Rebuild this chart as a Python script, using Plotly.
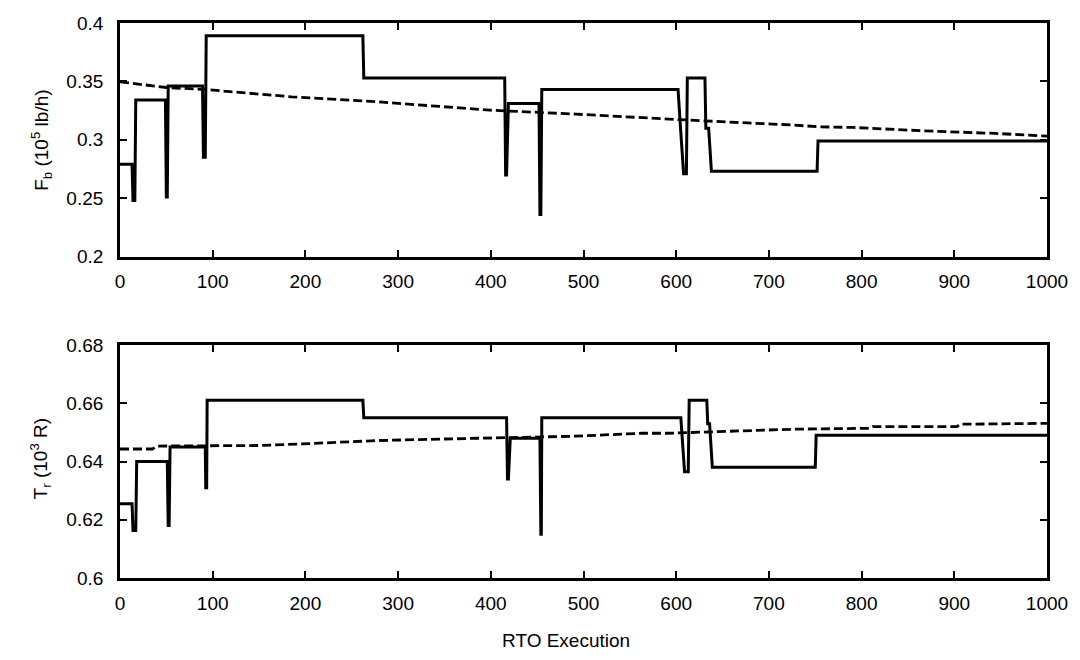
import plotly.graph_objects as go

# ---- data ----
fb_x = [0, 13, 14, 16, 17, 49, 50, 51, 52, 89, 90, 92, 93, 262, 263, 415, 416, 417, 419,
        452, 453, 454, 455, 602, 605, 608, 611, 612, 631, 632, 635, 638, 752, 753, 1000]
fb_y = [0.279, 0.279, 0.248, 0.248, 0.334, 0.334, 0.251, 0.251, 0.346, 0.346, 0.285, 0.285,
        0.389, 0.389, 0.353, 0.353, 0.270, 0.270, 0.331, 0.331, 0.236, 0.236, 0.343, 0.343,
        0.306, 0.271, 0.271, 0.353, 0.353, 0.310, 0.310, 0.273, 0.273, 0.299, 0.299]

fb_ref_x = [0, 50, 93, 185, 278, 399, 492, 591, 610, 727, 756, 791, 866, 944, 984, 1000]
fb_ref_y = [0.3496, 0.3448, 0.3430, 0.3368, 0.3325, 0.3254, 0.3220, 0.3174, 0.3170, 0.3126,
            0.3111, 0.3106, 0.3077, 0.3055, 0.3038, 0.3032]

tr_x = [0, 13, 14, 17, 18, 51, 52, 53, 54, 92, 92.5, 93.5, 94, 262, 263, 417, 418, 419, 421,
        453, 454, 454.5, 455, 605, 609, 613, 614, 633, 634, 636, 639, 750, 751, 1000]
tr_y = [0.6255, 0.6255, 0.6163, 0.6163, 0.640, 0.640, 0.618, 0.618, 0.645, 0.645, 0.631, 0.631,
        0.661, 0.661, 0.655, 0.655, 0.634, 0.634, 0.648, 0.648, 0.615, 0.615, 0.655, 0.655,
        0.6365, 0.6365, 0.661, 0.661, 0.653, 0.653, 0.638, 0.638, 0.649, 0.649]

tr_ref_x = [0, 35, 40, 150, 193, 278, 346, 492, 563, 591, 727, 809, 812, 903, 906, 1000]
tr_ref_y = [0.6443, 0.6443, 0.6453, 0.6455, 0.6460, 0.6472, 0.6477, 0.6487, 0.6497, 0.6497,
            0.6511, 0.6514, 0.6520, 0.6520, 0.6528, 0.6531]

x_ticks = [0, 100, 200, 300, 400, 500, 600, 700, 800, 900, 1000]
fb_ticks = [0.2, 0.25, 0.3, 0.35, 0.4]
fb_tick_text = ["0.2", "0.25", "0.3", "0.35", "0.4"]
tr_ticks = [0.6, 0.62, 0.64, 0.66, 0.68]
tr_tick_text = ["0.6", "0.62", "0.64", "0.66", "0.68"]

FONT = "Liberation Sans, Arial, sans-serif"

fig = go.Figure()
solid = dict(color="black", width=3)
dashed = dict(color="black", width=2.8, dash="9px,4px")

fig.add_trace(go.Scatter(x=fb_x, y=fb_y, mode="lines", line=solid, xaxis="x", yaxis="y",
                         showlegend=False))
fig.add_trace(go.Scatter(x=fb_ref_x, y=fb_ref_y, mode="lines", line=dashed, xaxis="x", yaxis="y",
                         showlegend=False))
fig.add_trace(go.Scatter(x=tr_x, y=tr_y, mode="lines", line=solid, xaxis="x2", yaxis="y2",
                         showlegend=False))
fig.add_trace(go.Scatter(x=tr_ref_x, y=tr_ref_y, mode="lines", line=dashed, xaxis="x2", yaxis="y2",
                         showlegend=False))

axis_common = dict(showline=True, linecolor="black", linewidth=2.8, mirror="ticks",
                   ticks="inside", ticklen=7, tickwidth=2, tickcolor="black",
                   showgrid=False, zeroline=False,
                   tickfont=dict(family=FONT, size=19, color="black"))

fig.update_layout(
    width=1080, height=660,
    margin=dict(l=120, r=24, t=23, b=82),
    paper_bgcolor="white", plot_bgcolor="white",
    font=dict(family=FONT, color="black"),
    xaxis=dict(domain=[0, 1], range=[0, 1000], tickvals=x_ticks, anchor="y",
               ticklabelstandoff=6, **axis_common),
    yaxis=dict(domain=[0.579, 1.0], range=[0.2, 0.4], tickvals=fb_ticks, ticktext=fb_tick_text,
               anchor="x", ticklabelstandoff=10, **axis_common),
    xaxis2=dict(domain=[0, 1], range=[0, 1000], tickvals=x_ticks, anchor="y2",
                ticklabelstandoff=6, **axis_common),
    yaxis2=dict(domain=[0.0, 0.4198], range=[0.6, 0.68], tickvals=tr_ticks, ticktext=tr_tick_text,
                anchor="x2", ticklabelstandoff=10, **axis_common),
    annotations=[
        dict(text="F<sub>b</sub> (10<sup>5</sup> lb/h)", xref="paper", yref="paper",
             x=-0.0855, y=0.789, textangle=-90, showarrow=False, xanchor="center", yanchor="middle",
             font=dict(family=FONT, size=19, color="black")),
        dict(text="T<sub>r</sub> (10<sup>3</sup> R)", xref="paper", yref="paper",
             x=-0.0855, y=0.215, textangle=-90, showarrow=False, xanchor="center", yanchor="middle",
             font=dict(family=FONT, size=19, color="black")),
        dict(text="RTO Execution", xref="paper", yref="paper",
             x=0.481, y=-0.112, showarrow=False, xanchor="center", yanchor="middle",
             font=dict(family=FONT, size=19, color="black")),
    ],
)

fig.write_html("out.html")
